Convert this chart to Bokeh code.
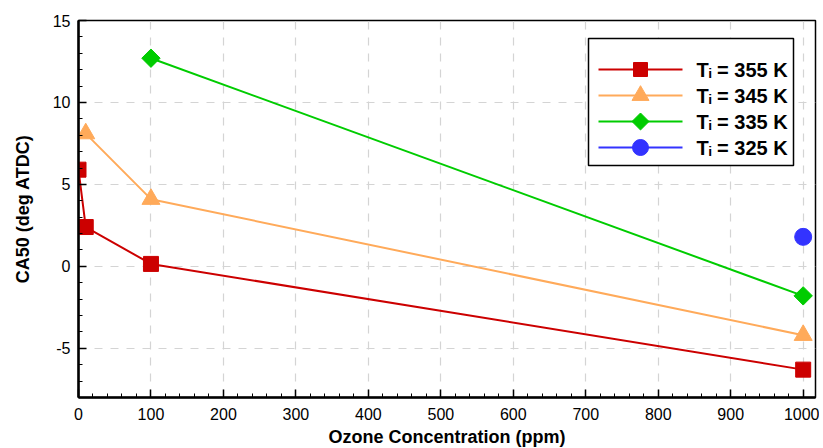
import math
from bokeh.plotting import figure
from bokeh.models import Range1d, FixedTicker, PrintfTickFormatter
from bokeh.core.properties import value
from bokeh.embed import file_html
from bokeh.resources import INLINE

# Data
x355 = [0, 10, 100, 1000]
y355 = [5.9, 2.4, 0.15, -6.3]
x345 = [10, 100, 1000]
y345 = [8.1, 4.1, -4.2]
x335 = [100, 1000]
y335 = [12.7, -1.8]
x325 = [1000]
y325 = [1.8]
labels = ["T\u1d62 = 355 K", "T\u1d62 = 345 K", "T\u1d62 = 335 K", "T\u1d62 = 325 K"]
x_ticks = list(range(0, 1001, 100))
y_ticks = [-5, 0, 5, 10, 15]

FONT = "Liberation Sans"
red, orange, green, blue = "#cc0000", "#ffaa5a", "#00cc00", "#3333ff"
colors = [red, orange, green, blue]
markers = ["square", "triangle", "square", "circle"]
msizes = [14, 17, 12, 16]
mangles = [0, 0, math.pi / 4, 0]

FW, FH = 737, 377  # frame size in px

p = figure(frame_width=FW, frame_height=FH, output_backend="svg", toolbar_location=None,
           x_range=Range1d(0, 1017), y_range=Range1d(-8, 15),
           min_border_left=78, min_border_right=4, min_border_top=20, min_border_bottom=49)
# pixel-coordinate ranges for the hand-made legend (origin top-left of frame)
p.extra_x_ranges = {"px": Range1d(0, FW)}
p.extra_y_ranges = {"px": Range1d(FH, 0)}

p.outline_line_color = "black"
p.outline_line_width = 1.5
p.background_fill_color = "white"
p.border_fill_color = "white"

for ax in (p.xaxis[0], p.yaxis[0]):
    ax.axis_line_width = 2.5
    ax.axis_line_color = "black"
    ax.major_tick_in = 8
    ax.major_tick_out = 0
    ax.minor_tick_in = 4
    ax.minor_tick_out = 0
    ax.major_tick_line_width = 1.5
    ax.minor_tick_line_width = 1
    ax.major_label_text_font = FONT
    ax.major_label_text_font_size = "16px"
    ax.major_label_text_color = "black"
    ax.axis_label_text_font = FONT
    ax.axis_label_text_font_style = "bold"
    ax.axis_label_text_font_size = "18px"
    ax.axis_label_text_color = "black"
    ax.formatter = PrintfTickFormatter(format="%d")

p.xaxis.ticker = FixedTicker(ticks=x_ticks, minor_ticks=list(range(0, 1017, 20)))
p.yaxis.ticker = FixedTicker(ticks=y_ticks, minor_ticks=list(range(-8, 16)))
p.xaxis.axis_label = "Ozone Concentration (ppm)"
p.yaxis.axis_label = "CA50 (deg ATDC)"
p.xaxis.major_label_standoff = 10
p.yaxis.major_label_standoff = 8
p.xaxis.axis_label_standoff = 4
p.yaxis.axis_label_standoff = 17

for g in (p.xgrid[0], p.ygrid[0]):
    g.grid_line_color = "#d4d4d4"
    g.grid_line_dash = "8 8"
    g.grid_line_width = 1.2

series = [(x355, y355), (x345, y345), (x335, y335), (x325, y325)]
for (xs, ys), c, mk, sz, an in zip(series, colors, markers, msizes, mangles):
    if len(xs) > 1:
        p.line(xs, ys, color=c, line_width=2)
    p.scatter(xs, ys, marker=mk, size=sz + 1, angle=an, color=c)

# Legend (layout in frame pixels)
LB_L, LB_R, LB_T, LB_B = 510, 715, 18, 145
ROW_Y = [49, 75, 101, 127]
LINE_X0, LINE_X1, MARK_X, TEXT_X = 520, 604, 562, 618
p.quad(left=[LB_L], right=[LB_R], top=[LB_T], bottom=[LB_B], fill_color="white",
       line_color="black", line_width=1.5, x_range_name="px", y_range_name="px")
p.multi_line(xs=[[LINE_X0, LINE_X1]] * 4, ys=[[yy, yy] for yy in ROW_Y], color=colors,
             line_width=2, x_range_name="px", y_range_name="px")
p.scatter(x=[MARK_X] * 4, y=ROW_Y, marker=markers, size=msizes, angle=mangles, color=colors,
          x_range_name="px", y_range_name="px")
p.text(x=[TEXT_X] * 4, y=ROW_Y, text=labels, text_font=value(FONT), text_font_style="bold",
       text_font_size="20px", text_baseline="middle", text_align="left", text_color="black",
       x_range_name="px", y_range_name="px")

open("out.html", "w").write(file_html(p, INLINE))
